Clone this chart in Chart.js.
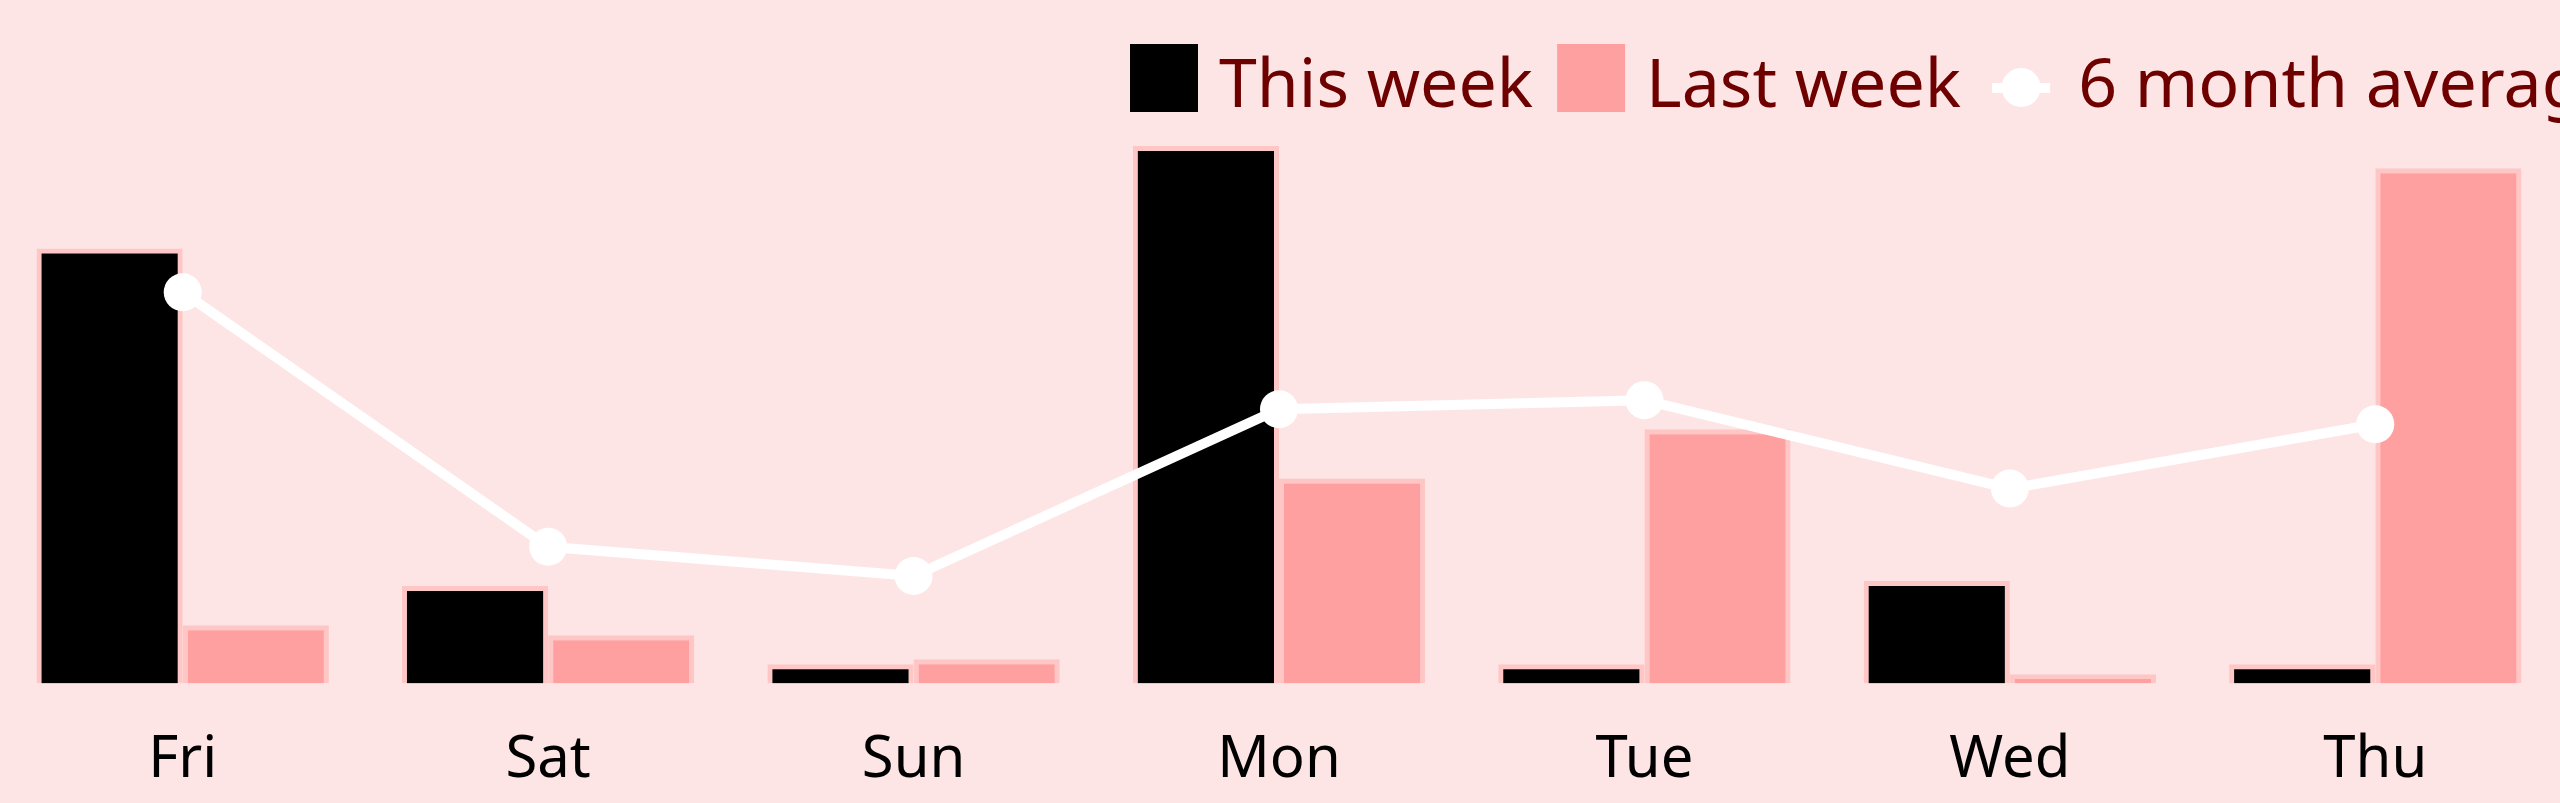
<!DOCTYPE html>
<html>
<head>
<meta charset="utf-8">
<script src="https://cdn.jsdelivr.net/npm/chart.js@4.4.1/dist/chart.umd.min.js"></script>
<style>
html,body{margin:0;padding:0;background:#fee5e5;overflow:hidden}
canvas{display:block}
</style>
</head>
<body>
<canvas id="c" width="2560" height="803"></canvas>
<script>
const categories = ['Fri', 'Sat', 'Sun', 'Mon', 'Tue', 'Wed', 'Thu'];
const thisWeek = [86.6, 19.4, 3.8, 107.0, 3.8, 20.4, 3.8];
const lastWeek = [11.6, 9.6, 4.8, 40.8, 50.6, 1.8, 102.6];
const sixMonthAvg = [77.9, 27.2, 21.4, 54.6, 56.4, 38.8, 51.6];
const seriesNames = ['This week', 'Last week', '6 month average'];

const BG = '#fee5e5';
const BAR_BORDER = '#ffc6c6';
const PINK = '#ffa0a0';
const LEGEND_TEXT = '#6e0000';
const FONT = '"Noto Sans", "Open Sans", sans-serif';

const bgPlugin = {
  id: 'bg',
  beforeDraw(chart) {
    const ctx = chart.ctx;
    ctx.save();
    ctx.fillStyle = BG;
    ctx.fillRect(0, 0, chart.width, chart.height);
    ctx.restore();
  }
};

const legendPlugin = {
  id: 'topLegend',
  afterDraw(chart) {
    const ctx = chart.ctx;
    ctx.save();
    ctx.font = '68px ' + FONT;
    ctx.textBaseline = 'alphabetic';
    ctx.textAlign = 'left';
    const baseY = 107;
    let x = 1130;
    // This week
    ctx.fillStyle = '#000';
    ctx.fillRect(x, 44, 68, 68);
    x += 68 + 21;
    ctx.fillStyle = LEGEND_TEXT;
    ctx.fillText(seriesNames[0], x, baseY);
    x += ctx.measureText(seriesNames[0]).width + 24;
    // Last week
    ctx.fillStyle = PINK;
    ctx.fillRect(x, 44, 68, 68);
    x += 68 + 21;
    ctx.fillStyle = LEGEND_TEXT;
    ctx.fillText(seriesNames[1], x, baseY);
    x += ctx.measureText(seriesNames[1]).width + 31;
    // 6 month average (line with circle)
    ctx.fillStyle = '#ffffff';
    ctx.fillRect(x, 83, 58, 10);
    ctx.beginPath();
    ctx.arc(x + 29, 87.5, 19.5, 0, Math.PI * 2);
    ctx.fill();
    x += 58 + 28;
    ctx.fillStyle = LEGEND_TEXT;
    ctx.fillText(seriesNames[2], x, baseY);
    ctx.restore();
  }
};

new Chart(document.getElementById('c'), {
  type: 'bar',
  data: {
    labels: categories,
    datasets: [
      {
        label: seriesNames[0], data: thisWeek,
        backgroundColor: '#000000', borderColor: BAR_BORDER, borderWidth: 5,
        barPercentage: 1.0, categoryPercentage: 0.8, order: 1
      },
      {
        label: seriesNames[1], data: lastWeek,
        backgroundColor: PINK, borderColor: BAR_BORDER, borderWidth: 5,
        barPercentage: 1.0, categoryPercentage: 0.8, order: 1
      },
      {
        type: 'line', label: seriesNames[2], data: sixMonthAvg,
        borderColor: '#ffffff', backgroundColor: '#ffffff', borderWidth: 10,
        pointRadius: 19, pointHoverRadius: 19, pointBorderWidth: 0,
        pointBackgroundColor: '#ffffff', tension: 0, order: 0
      }
    ]
  },
  options: {
    responsive: false,
    animation: false,
    devicePixelRatio: 1,
    layout: { autoPadding: false, padding: { top: 131, left: -3, right: 2, bottom: -34 } },
    plugins: { legend: { display: false }, tooltip: { enabled: false } },
    scales: {
      x: {
        grid: { display: false, drawTicks: false },
        border: { display: false },
        ticks: { color: '#000000', font: { family: FONT, size: 58 }, padding: 42, maxRotation: 0, autoSkip: false }
      },
      y: { display: false, min: 0, max: 110 }
    }
  },
  plugins: [bgPlugin, legendPlugin]
});
</script>
</body>
</html>
